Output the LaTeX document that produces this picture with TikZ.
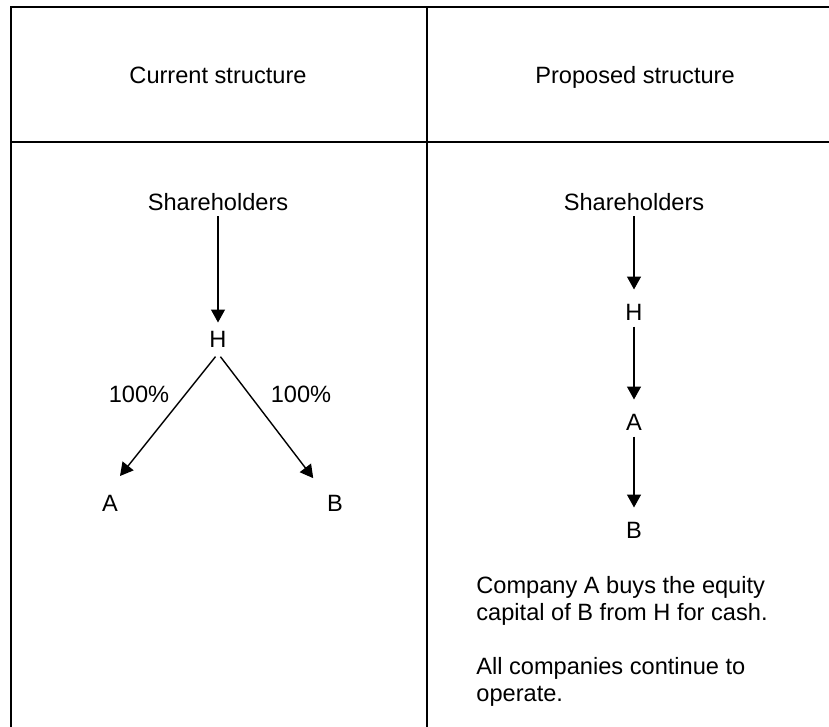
\documentclass[tikz,border=0pt]{standalone}
\usepackage{fontspec}
\setmainfont{Liberation Sans}
\usetikzlibrary{arrows.meta}
\tikzstyle{table_line}=[line width=1pt,
                        line cap=rect]
\tikzstyle{entity}=[inner sep=0pt,
                    outer sep=3pt,
                    text height=8.5pt,
                    text depth=0pt,
                    font=\fontsize{11.8}{13.5}\selectfont]
\tikzstyle{owns}=[line width=0.7pt,
                  -{Triangle[length=6.5pt, width=7pt]}]

\begin{document}
\begin{tikzpicture}[x=0.5pt, y=-0.5pt]
    \useasboundingbox (0, 0) rectangle (829, 727);

    % table
    \draw[table_line] (829, 7) -- (11, 7) -- (11, 727);
    \draw[table_line] (427, 7) -- (427, 727);
    \draw[table_line] (11, 142) -- (829, 142);

    \node at (218, 75) (current_title) [entity] {Current structure};
    \node at (635, 75) (proposed_title) [entity] {Proposed structure};

    % current structure
    \node at (218, 202) (cur_sh) [entity] {Shareholders};
    \node at (218, 339) (cur_h) [entity] {H};
    \node at (110, 503) (cur_a) [entity] {A};
    \node at (335, 503) (cur_b) [entity] {B};
    \node at (139, 394) (cur_pct_a) [entity] {100\%};
    \node at (301, 394) (cur_pct_b) [entity] {100\%};

    \draw[owns, shorten >=1pt] (cur_sh.south) -- (cur_h.north);
    \draw[owns, shorten <=2pt, shorten >=8pt] (cur_h.south) -- (cur_a.north);
    \draw[owns, shorten <=2pt, shorten >=6.5pt] (cur_h.south) -- (cur_b.north west);

    % proposed structure
    \foreach \n/\y/\t in {sh/202/Shareholders, h/312/H, a/422/A, b/530/B} {
      \node at (634, \y) (new_\n) [entity] {\t};
    }
    \foreach \f/\t in {sh/h, h/a, a/b} {
      \draw[owns, shorten >=4pt] (new_\f.south) -- (new_\t.north);
    }

    % base of the last line
    \node at (476, 701.5) (new_note) [anchor=base west, align=left, inner sep=0pt,
                                      font=\fontsize{11.8}{13.5}\selectfont]
      {Company A buys the equity\\capital of B from H for cash.\\[13.5pt]All companies continue to\\operate.};
  \end{tikzpicture}
\end{document}
